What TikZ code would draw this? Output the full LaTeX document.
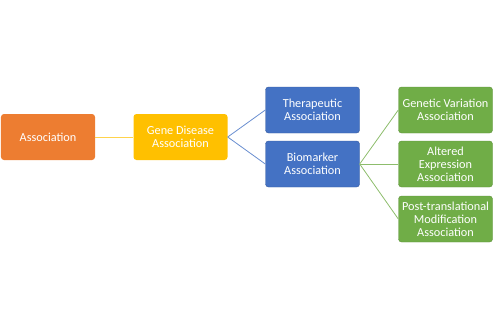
\documentclass[tikz,border=0pt]{standalone}
\usepackage{fontspec}
\setmainfont{Carlito}
\definecolor{corange}{HTML}{ED7D31}
\definecolor{cgold}{HTML}{FFC000}
\definecolor{cblue}{HTML}{4472C4}
\definecolor{cgreen}{HTML}{70AD47}
\begin{document}
\begin{tikzpicture}[x=1bp,y=-1bp,
  box/.style={rounded corners=3bp, minimum width=94bp, minimum height=46bp, inner sep=1bp,
    text=white, align=center, font=\fontsize{12.3}{13.2}\selectfont},
  obox/.style={box, fill=corange},
  ybox/.style={box, fill=cgold},
  bbox/.style={box, fill=cblue, draw=cblue!80!black, line width=0.4bp},
  gbox/.style={box, fill=cgreen, draw=cgreen!85!black, line width=0.4bp},
  link/.style={line width=0.8bp}]
\useasboundingbox (0,0) rectangle (500,329);
\node[obox] (a) at (48,137) {Association};
\node[ybox] (g) at (180.5,137) {Gene Disease\\Association};
\node[bbox] (t) at (312.5,110) {Therapeutic\\Association};
\node[bbox] (b) at (312.5,164) {Biomarker\\Association};
\node[gbox] (v) at (445.5,110) {Genetic Variation\\Association};
\node[gbox] (e) at (445.5,164) {Altered\\Expression\\Association};
\node[gbox] (p) at (445.5,219) {Post-translational\\Modification\\Association};
\draw[link, cgold!70] (a.east) -- (g.west);
\draw[link, cblue!80] (g.east) -- (t.west);
\draw[link, cblue!80] (g.east) -- (b.west);
\draw[link, cgreen!80] (b.east) -- (v.west);
\draw[link, cgreen!80] (b.east) -- (e.west);
\draw[link, cgreen!80] (b.east) -- (p.west);
\end{tikzpicture}
\end{document}
